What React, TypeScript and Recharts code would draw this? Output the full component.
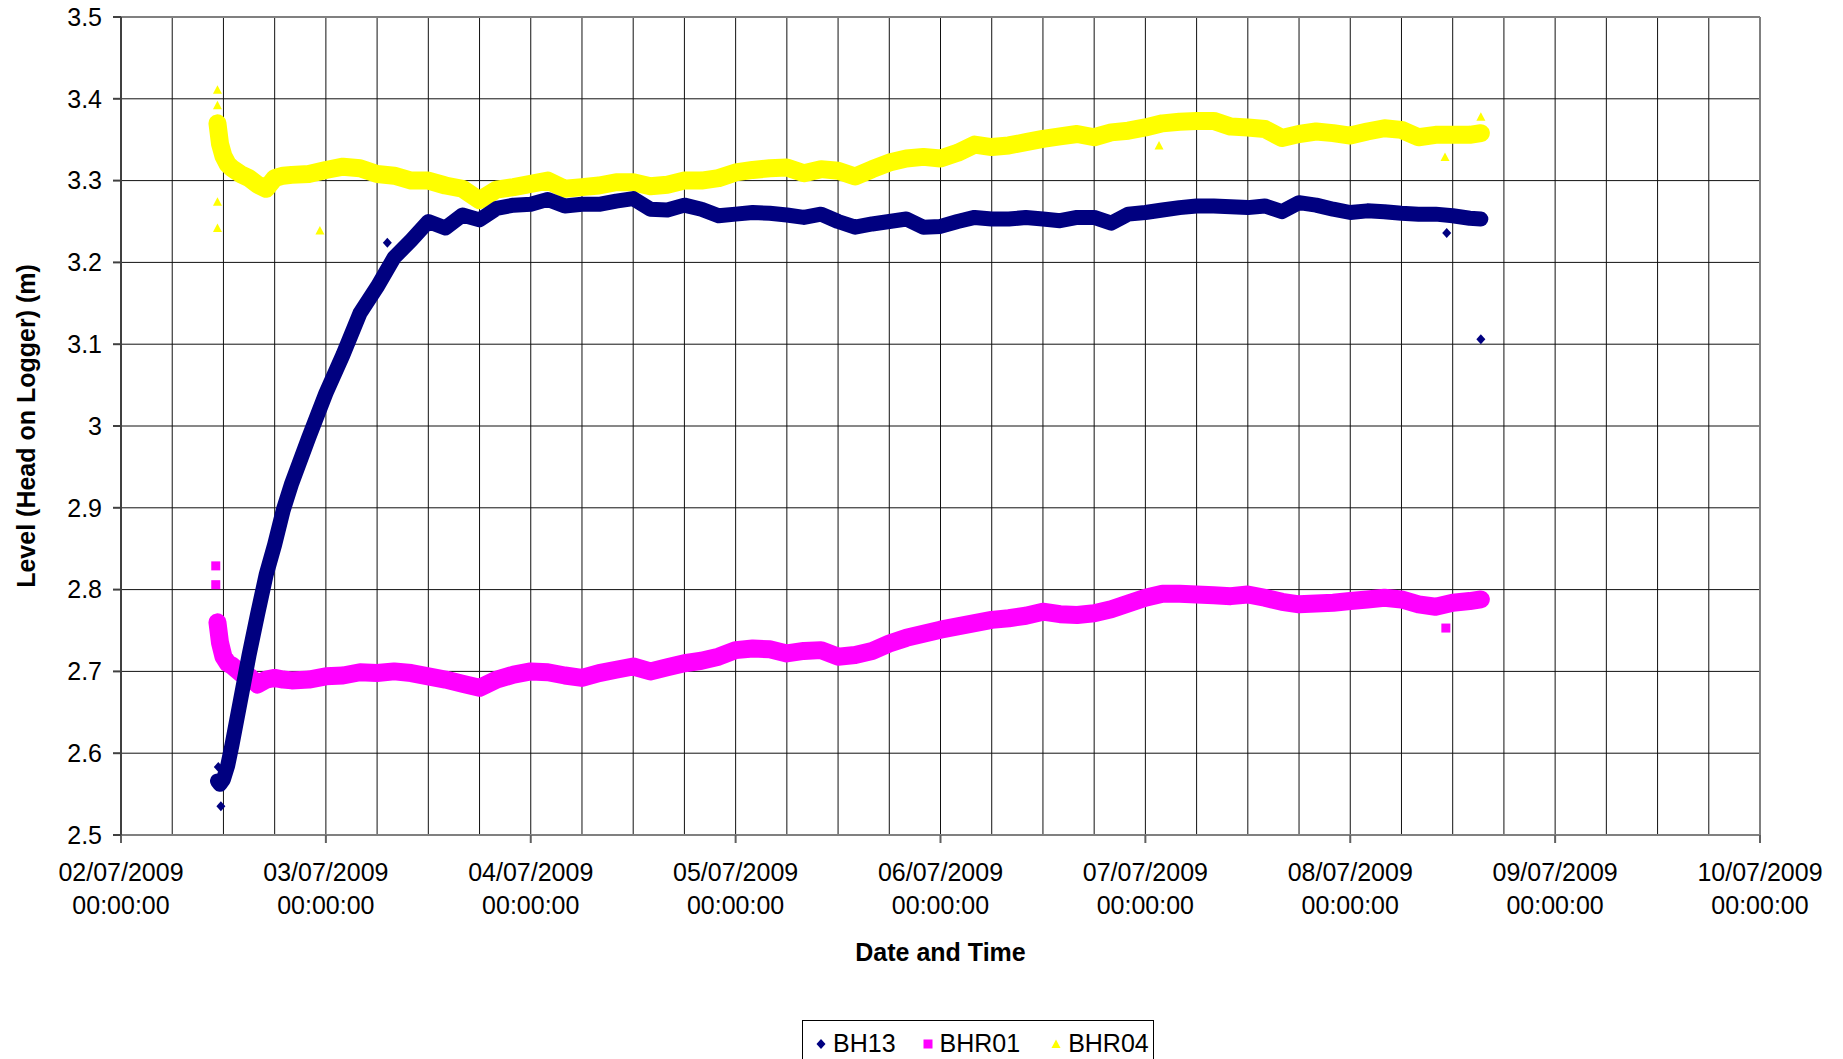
import React from "react";
import {
  ScatterChart,
  Scatter,
  XAxis,
  YAxis,
  CartesianGrid,
  ReferenceLine,
  Legend,
  Label,
} from "recharts";

// hours since 02/07/2009 00:00:00
const hours = [
  11.3, 11.6, 12, 12.5, 13, 14, 15, 16, 17, 18, 19, 20,
  22, 24, 26, 28, 30, 32, 34, 36, 38, 40,
  42, 44, 46, 48, 50, 52, 54, 56, 58, 60,
  62, 64, 66, 68, 70, 72, 74, 76, 78, 80,
  82, 84, 86, 88, 90, 92, 94, 96, 98, 100,
  102, 104, 106, 108, 110, 112, 114, 116, 118, 120,
  122, 124, 126, 128, 130, 132, 134, 136, 138, 140,
  142, 144, 146, 148, 150, 152, 154, 156, 158, 159.3,
];

const bh13 = [
  2.566, 2.562, 2.568, 2.585, 2.61, 2.665, 2.72, 2.77, 2.818, 2.855, 2.897, 2.93,
  2.986, 3.04, 3.087, 3.138, 3.17, 3.206, 3.227, 3.25, 3.242, 3.258,
  3.252, 3.266, 3.27, 3.271, 3.277, 3.269, 3.271, 3.271, 3.275, 3.278,
  3.265, 3.264, 3.27, 3.265, 3.257, 3.259, 3.261, 3.26, 3.258, 3.255,
  3.259, 3.25, 3.243, 3.247, 3.25, 3.253, 3.243, 3.244, 3.25, 3.255,
  3.253, 3.253, 3.255, 3.253, 3.251, 3.255, 3.255, 3.248, 3.259, 3.261,
  3.264, 3.267, 3.269, 3.269, 3.268, 3.267, 3.269, 3.262, 3.273, 3.27,
  3.265, 3.261, 3.263, 3.262, 3.26, 3.259, 3.259, 3.257, 3.254, 3.253,
];

const bhr01 = [
  2.76, 2.735, 2.718, 2.71, 2.707, 2.698, 2.694, 2.684, 2.69, 2.692, 2.69, 2.689,
  2.69, 2.694, 2.695, 2.699, 2.698, 2.7, 2.698, 2.694, 2.69, 2.685,
  2.68, 2.69, 2.696, 2.7, 2.699, 2.695, 2.692, 2.698, 2.702, 2.706,
  2.7, 2.705, 2.71, 2.713, 2.718, 2.726, 2.728, 2.727, 2.722, 2.725,
  2.726, 2.718, 2.72, 2.725, 2.734, 2.741, 2.746, 2.751, 2.755, 2.759,
  2.763, 2.765, 2.768, 2.773, 2.77, 2.769, 2.771, 2.776, 2.783, 2.79,
  2.795, 2.795, 2.794, 2.793, 2.792, 2.794, 2.79, 2.785, 2.782, 2.783,
  2.784, 2.786, 2.788, 2.79, 2.788, 2.782, 2.779, 2.784, 2.786, 2.788,
];

const bhr04 = [
  3.37, 3.345, 3.33, 3.32, 3.315, 3.308, 3.303, 3.295, 3.29, 3.303, 3.306, 3.307,
  3.308, 3.313, 3.317, 3.315, 3.308, 3.306, 3.3, 3.3, 3.294, 3.29,
  3.276, 3.289, 3.292, 3.296, 3.3, 3.29, 3.292, 3.294, 3.298, 3.298,
  3.293, 3.295, 3.3, 3.3, 3.303, 3.31, 3.313, 3.315, 3.316, 3.309,
  3.314, 3.312, 3.305, 3.314, 3.322, 3.327, 3.329, 3.327, 3.334, 3.344,
  3.341, 3.343, 3.347, 3.351, 3.354, 3.357, 3.353, 3.359, 3.361, 3.365,
  3.37, 3.372, 3.373, 3.373, 3.366, 3.365, 3.363, 3.352, 3.357, 3.36,
  3.358, 3.355, 3.36, 3.364, 3.362, 3.353, 3.356, 3.356, 3.356, 3.358,
];

// stray readings away from the main trace
const bh13OutHours = [11.4, 11.7, 31.2, 155.3, 159.3];
const bh13OutValues = [2.583, 2.535, 3.224, 3.236, 3.106];
const bhr01OutHours = [11.1, 11.1, 155.2];
const bhr01OutValues = [2.829, 2.806, 2.753];
const bhr04OutHours = [11.3, 11.3, 11.3, 11.3, 23.3, 121.6, 155.1, 159.3];
const bhr04OutValues = [3.411, 3.392, 3.274, 3.242, 3.239, 3.343, 3.329, 3.378];

const dayTicks = [0, 24, 48, 72, 96, 120, 144, 168, 192];
const dayLabels = [
  "02/07/2009", "03/07/2009", "04/07/2009", "05/07/2009", "06/07/2009",
  "07/07/2009", "08/07/2009", "09/07/2009", "10/07/2009",
];
const gridHours = [
  0, 6, 12, 18, 24, 30, 36, 42, 48, 54, 60, 66, 72, 78, 84, 90, 96,
  102, 108, 114, 120, 126, 132, 138, 144, 150, 156, 162, 168, 174, 180, 186, 192,
];
const levelTicks = [2.5, 2.6, 2.7, 2.8, 2.9, 3, 3.1, 3.2, 3.3, 3.4, 3.5];

const NAVY = "#000080";
const MAGENTA = "#FF00FF";
const YELLOW = "#FFFF00";
const FONT = '"Liberation Sans", Arial, sans-serif';

const toPoints = (t: number[], v: number[]) => t.map((h, i) => ({ t: h, v: v[i] }));

const Diamond = ({ cx, cy, fill }: any) => (
  <polygon points={`${cx},${cy - 5} ${cx + 4.5},${cy} ${cx},${cy + 5} ${cx - 4.5},${cy}`} fill={fill} />
);
const Square = ({ cx, cy, fill }: any) => (
  <rect x={cx - 4.5} y={cy - 4.5} width={9} height={9} fill={fill} />
);
const Triangle = ({ cx, cy, fill }: any) => (
  <polygon points={`${cx},${cy - 4.5} ${cx + 4.5},${cy + 4} ${cx - 4.5},${cy + 4}`} fill={fill} />
);

const DateTick = ({ x, y, payload }: any) => {
  const idx = dayTicks.indexOf(payload.value);
  return (
    <g>
      <text x={x} y={y} dy={38} textAnchor="middle" fill="#000" fontSize={25} fontFamily={FONT}>
        {dayLabels[idx]}
      </text>
      <text x={x} y={y} dy={71} textAnchor="middle" fill="#000" fontSize={25} fontFamily={FONT}>
        00:00:00
      </text>
    </g>
  );
};

const LegendBox = () => {
  const item = (shape: React.ReactNode, name: string, gap: number) => (
    <span style={{ display: "inline-flex", alignItems: "center", marginRight: gap }}>
      <svg width={16} height={16} style={{ marginRight: 4 }}>
        {shape}
      </svg>
      <span>{name}</span>
    </span>
  );
  return (
    <div
      style={{
        border: "1px solid #000",
        height: 60,
        boxSizing: "border-box",
        display: "flex",
        alignItems: "flex-start",
        paddingTop: 8,
        paddingLeft: 10,
        fontFamily: FONT,
        fontSize: 25,
        color: "#000",
        background: "#fff",
      }}
    >
      {item(<Diamond cx={8} cy={8} fill={NAVY} />, "BH13", 24)}
      {item(<Square cx={8} cy={8} fill={MAGENTA} />, "BHR01", 28)}
      {item(<Triangle cx={8} cy={8} fill={YELLOW} />, "BHR04", 0)}
    </div>
  );
};

export default function App() {
  const bh13Data = toPoints(hours, bh13);
  const bhr01Data = toPoints(hours, bhr01);
  const bhr04Data = toPoints(hours, bhr04);

  return (
    <div
      style={{
        position: "absolute",
        left: 0,
        top: 0,
        width: 1843,
        height: 1059,
        overflow: "hidden",
        background: "#fff",
      }}
    >
      <ScatterChart
        width={1843}
        height={1080}
        margin={{ top: 17, right: 83, bottom: 115, left: 0 }}
        style={{ fontFamily: FONT }}
      >
        <CartesianGrid
          stroke="#111"
          strokeWidth={1}
          verticalValues={gridHours}
          horizontalValues={levelTicks}
        />
        <XAxis
          type="number"
          dataKey="t"
          domain={[0, 192]}
          ticks={dayTicks}
          interval={0}
          height={130}
          tickSize={8}
          tickMargin={0}
          tick={<DateTick />}
          axisLine={{ stroke: "#808080", strokeWidth: 2 }}
          tickLine={{ stroke: "#606060", strokeWidth: 2 }}
        >
          <Label
            value="Date and Time"
            position="center"
            dy={52}
            fontSize={25}
            fontWeight="bold"
            fill="#000"
            fontFamily={FONT}
          />
        </XAxis>
        <YAxis
          type="number"
          dataKey="v"
          domain={[2.5, 3.5]}
          ticks={levelTicks}
          interval={0}
          width={121}
          tickSize={8}
          tickMargin={11}
          tick={{ fontSize: 25, fill: "#000", fontFamily: FONT }}
          axisLine={{ stroke: "#404040", strokeWidth: 2 }}
          tickLine={{ stroke: "#404040", strokeWidth: 2 }}
        >
          <Label
            value="Level (Head on Logger) (m)"
            angle={-90}
            position="center"
            dx={-34}
            fontSize={25}
            fontWeight="bold"
            fill="#000"
            fontFamily={FONT}
          />
        </YAxis>
        <ReferenceLine y={3.5} stroke="#808080" strokeWidth={2} />
        <ReferenceLine x={192} stroke="#808080" strokeWidth={2} />

        <Scatter
          name="BHR04"
          data={bhr04Data}
          fill={YELLOW}
          line={{ strokeWidth: 18, strokeLinejoin: "round", strokeLinecap: "round" }}
          lineType="joint"
          shape={<Triangle />}
          isAnimationActive={false}
        />
        <Scatter
          name="BHR04 stray"
          data={toPoints(bhr04OutHours, bhr04OutValues)}
          fill={YELLOW}
          shape={<Triangle />}
          legendType="none"
          isAnimationActive={false}
        />
        <Scatter
          name="BHR01"
          data={bhr01Data}
          fill={MAGENTA}
          line={{ strokeWidth: 18, strokeLinejoin: "round", strokeLinecap: "round" }}
          lineType="joint"
          shape={<Square />}
          isAnimationActive={false}
        />
        <Scatter
          name="BHR01 stray"
          data={toPoints(bhr01OutHours, bhr01OutValues)}
          fill={MAGENTA}
          shape={<Square />}
          legendType="none"
          isAnimationActive={false}
        />
        <Scatter
          name="BH13"
          data={bh13Data}
          fill={NAVY}
          line={{ strokeWidth: 15, strokeLinejoin: "round", strokeLinecap: "round" }}
          lineType="joint"
          shape={<Diamond />}
          isAnimationActive={false}
        />
        <Scatter
          name="BH13 stray"
          data={toPoints(bh13OutHours, bh13OutValues)}
          fill={NAVY}
          shape={<Diamond />}
          legendType="none"
          isAnimationActive={false}
        />
        <Legend
          layout="horizontal"
          verticalAlign="middle"
          align="center"
          content={<LegendBox />}
          wrapperStyle={{ position: "absolute", left: 802, top: 1020, width: 352, height: 60 }}
        />
      </ScatterChart>
    </div>
  );
}
